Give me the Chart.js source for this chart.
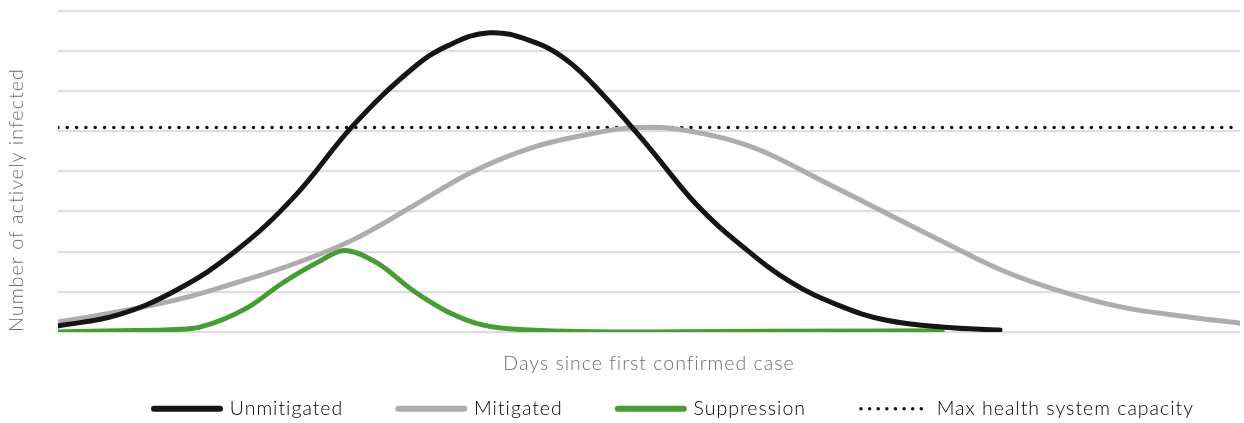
<!DOCTYPE html>
<html>
<head>
<meta charset="utf-8">
<script src="https://cdn.jsdelivr.net/npm/chart.js@4.4.1/dist/chart.umd.min.js"></script>
<style>
    body { margin: 0; background: #fff; }
    #wrap { width: 1244px; height: 423px; }
</style>
</head>
<body>
<div id="wrap"><canvas id="curveChart"></canvas></div>
<script>
// days since first case (0-100) and number of actively infected (grid units)
var unmitigatedDays = [0, 5, 10, 15, 20, 25, 30, 33, 36.5, 40, 43, 46, 50, 54, 58, 62, 66, 70, 75, 79.7];
var unmitigatedValues = [0.15, 0.42, 1.04, 2.01, 3.37, 5.15, 6.56, 7.13, 7.45, 7.25, 6.78, 5.94, 4.60, 3.18, 2.11, 1.24, 0.67, 0.30, 0.12, 0.05];

var mitigatedDays = [0, 5, 10, 15, 20, 25, 30, 35, 40, 45, 48, 51, 54, 57, 60, 65, 70, 75, 80, 85, 90, 95, 100];
var mitigatedValues = [0.25, 0.50, 0.80, 1.22, 1.70, 2.30, 3.13, 3.98, 4.58, 4.93, 5.07, 5.09, 4.97, 4.77, 4.45, 3.71, 2.97, 2.23, 1.52, 1.00, 0.62, 0.40, 0.22];

var suppressionDays = [0, 5, 10, 12, 16, 19, 22, 24.2, 27, 30, 33, 36, 40, 50, 60, 74.8];
var suppressionValues = [0.0, 0.03, 0.06, 0.12, 0.60, 1.22, 1.74, 2.03, 1.72, 1.04, 0.50, 0.17, 0.05, 0.0, 0.02, 0.03];

var capacityDays = [0, 100];
var capacityValues = [5.09, 5.09];

var seriesNames = ['Unmitigated', 'Mitigated', 'Suppression', 'Max health system capacity'];

function toPoints(days, values) {
    return days.map(function (d, i) {
        return { x: d, y: values[i] };
    });
}

// original text is tracked out a little
function setSpacing(chart) {
    chart.ctx.letterSpacing = '1px';
}

// legend sits lower and a bit right of the default spot
var legendTweaks = {
    id: 'legendTweaks',
    beforeUpdate: setSpacing,
    beforeLayout: setSpacing,
    beforeDraw: setSpacing,
    afterLayout: function (chart) {
        var lg = chart.legend;
        lg.left += 54;
        lg.right += 54;
        lg.top -= 39;
    }
};

var textColor = '#6e6e6e';

var ctx = document.getElementById('curveChart').getContext('2d');

new Chart(ctx, {
    type: 'line',
    data: {
        datasets: [{
            label: seriesNames[0],
            data: toPoints(unmitigatedDays, unmitigatedValues),
            borderColor: '#161512',
            borderWidth: 5,
            borderCapStyle: 'round',
            tension: 0.4,
            pointRadius: 0
        }, {
            label: seriesNames[1],
            data: toPoints(mitigatedDays, mitigatedValues),
            borderColor: '#b0acac',
            borderWidth: 5,
            borderCapStyle: 'round',
            tension: 0.4,
            pointRadius: 0
        }, {
            label: seriesNames[2],
            data: toPoints(suppressionDays, suppressionValues),
            borderColor: '#489c36',
            borderWidth: 5,
            borderCapStyle: 'round',
            cubicInterpolationMode: 'monotone',
            pointRadius: 0
        }, {
            label: seriesNames[3],
            data: toPoints(capacityDays, capacityValues),
            borderColor: '#111111',
            borderWidth: 3.5,
            borderCapStyle: 'round',
            borderDash: [0.01, 9.3],
            pointRadius: 0
        }]
    },
    options: {
        responsive: true,
        maintainAspectRatio: false,
        animation: false,
        layout: {
            autoPadding: false,
            padding: { top: 10.7, right: 4, bottom: 0, left: 0 }
        },
        plugins: {
            tooltip: { enabled: false },
            legend: {
                position: 'bottom',
                maxHeight: 40,
                labels: {
                    color: textColor,
                    font: { family: 'Lato', size: 19.5, weight: '300' },
                    usePointStyle: true,
                    pointStyleWidth: 66,
                    padding: 55,
                    generateLabels: function (chart) {
                        return chart.data.datasets.map(function (ds, i) {
                            return {
                                text: ds.label,
                                datasetIndex: i,
                                pointStyle: 'line',
                                strokeStyle: ds.borderColor,
                                fillStyle: ds.borderColor,
                                lineWidth: i === 3 ? 3.5 : 6,
                                lineDash: i === 3 ? [0.01, 8.6] : [],
                                lineCap: 'round',
                                hidden: false
                            };
                        });
                    }
                }
            }
        },
        scales: {
            x: {
                type: 'linear',
                min: 0,
                max: 100,
                ticks: { display: false },
                grid: { display: false, drawTicks: false },
                border: { display: false },
                title: {
                    display: true,
                    text: 'Days since first confirmed case',
                    color: textColor,
                    font: { family: 'Lato', size: 19.5, weight: '300' },
                    padding: { top: 20.3, bottom: 7.3 }
                }
            },
            y: {
                min: 0,
                max: 8,
                ticks: { display: false, stepSize: 1 },
                grid: { color: '#dedede', lineWidth: 2.2, drawTicks: false },
                border: { display: false },
                title: {
                    display: true,
                    text: 'Number of actively infected',
                    align: 'start',
                    color: textColor,
                    font: { family: 'Lato', size: 19.8, weight: '300' },
                    padding: { top: 4.6, bottom: 29.6 }
                }
            }
        }
    },
    plugins: [legendTweaks]
});
</script>
</body>
</html>
